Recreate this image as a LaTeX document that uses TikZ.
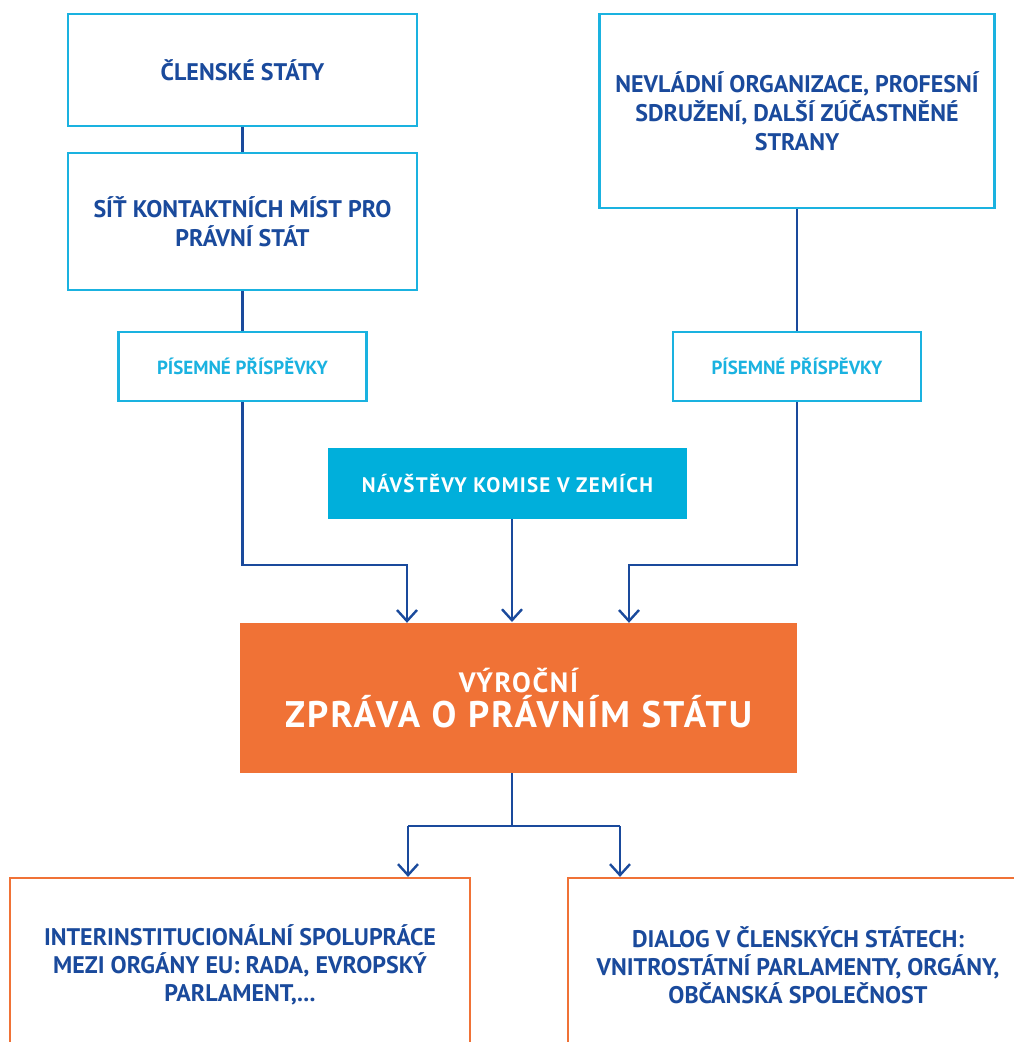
\documentclass[tikz,border=0pt]{standalone}
\usepackage{fontspec}
\setmainfont{PT Sans}
\newfontfamily\spaced[LetterSpace=6]{PT Sans}
\usetikzlibrary{arrows.meta}
\definecolor{dblue}{HTML}{1A4A9C}
\definecolor{lblue}{HTML}{1AB2E0}
\definecolor{fblue}{HTML}{00AFDB}
\definecolor{orng}{HTML}{F07236}
\tikzset{
  x=1pt,y=-1pt,
  cbox/.style={draw=lblue,line width=2.6pt,fill=white,align=center,text=dblue,font=\bfseries\fontsize{24}{29}\selectfont,inner sep=0pt},
  sbox/.style={draw=lblue,line width=2.6pt,fill=white,align=center,text=lblue,font=\bfseries\fontsize{19}{20}\selectfont,inner sep=0pt},
  obox/.style={draw=orng,line width=2.2pt,fill=white,align=center,text=dblue,font=\bfseries\fontsize{24}{28}\selectfont,inner sep=0pt},
  conn/.style={draw=dblue,line width=2.4pt},
  arr/.style={conn,-{Straight Barb[length=11pt,width=20pt,line width=2.4pt]}},
}
\begin{document}
\begin{tikzpicture}
\useasboundingbox (0,0) rectangle (1014,1042);
\node[cbox,minimum width=349,minimum height=112] (clen) at (242.5,70) {ČLENSKÉ STÁTY};
\node[cbox,minimum width=349,minimum height=137] (sit) at (242.5,221.5) {SÍŤ KONTAKTNÍCH MÍST PRO\\PRÁVNÍ STÁT};
\node[sbox,minimum width=248,minimum height=69] (pis1) at (242.5,366.5) {PÍSEMNÉ PŘÍSPĚVKY};
\node[cbox,minimum width=395,minimum height=194] (ngo) at (797,111) {NEVLÁDNÍ ORGANIZACE, PROFESNÍ\\SDRUŽENÍ, DALŠÍ ZÚČASTNĚNÉ\\STRANY};
\node[sbox,minimum width=248,minimum height=69] (pis2) at (797,366.5) {PÍSEMNÉ PŘÍSPĚVKY};
\node[fill=fblue,minimum width=359,minimum height=71,inner sep=0pt,text=white,font=\spaced\bfseries\fontsize{21}{22}\selectfont] (nav) at (507.5,483.5) {NÁVŠTĚVY KOMISE V ZEMÍCH};
\node[fill=orng,minimum width=557,minimum height=150,inner sep=0pt,text=white,align=center] (zpr) at (518.5,698) {{\spaced\bfseries\fontsize{28}{28}\selectfont VÝROČNÍ}\\[2pt]{\spaced\bfseries\fontsize{37}{38}\selectfont ZPRÁVA O PRÁVNÍM STÁTU}};
\node[obox,minimum width=460,minimum height=174] (eu) at (240,965) {INTERINSTITUCIONÁLNÍ SPOLUPRÁCE\\MEZI ORGÁNY EU: RADA, EVROPSKÝ\\PARLAMENT,...};
\node[obox,minimum width=460,minimum height=174] (dia) at (798,965) {DIALOG V ČLENSKÝCH STÁTECH:\\VNITROSTÁTNÍ PARLAMENTY, ORGÁNY,\\OBČANSKÁ SPOLEČNOST};
% connectors
\draw[conn] (clen.south) -- (sit.north);
\draw[conn] (sit.south) -- (pis1.north);
\draw[conn] (ngo.south) -- (pis2.north);
\coordinate (jl) at (407,565);
\coordinate (jr) at (629,565);
\draw[arr] (pis1.south) |- (jl) -- (jl |- zpr.north);
\draw[arr] (pis2.south) |- (jr) -- (jr |- zpr.north);
\draw[arr] (nav.south -| 512,0) -- (512,622);
\coordinate (bm) at (512,826);
\coordinate (bl) at (408,826);
\coordinate (br) at (620,826);
\draw[conn] (zpr.south -| bm) -- (bm);
\draw[conn] (bl) -- (br);
\draw[arr] (bl) -- (bl |- eu.north);
\draw[arr] (br) -- (br |- dia.north);
\end{tikzpicture}
\end{document}
